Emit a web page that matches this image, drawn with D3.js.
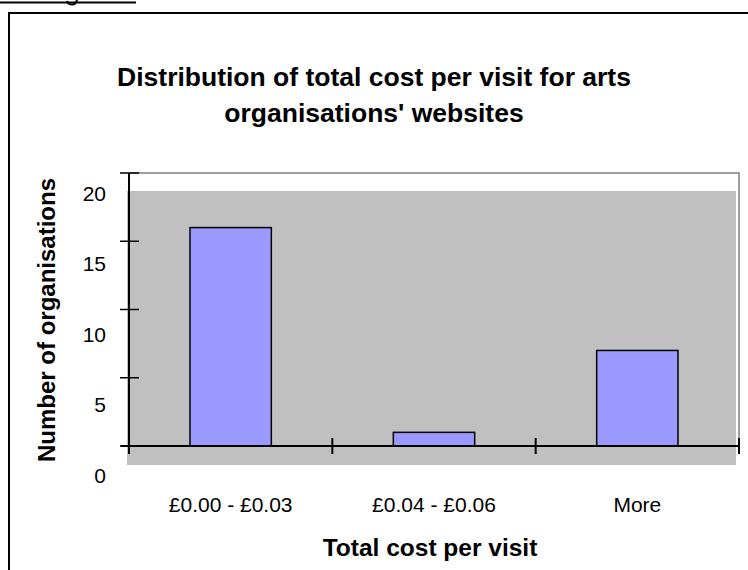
<!DOCTYPE html>
<html><head><meta charset="utf-8">
<script src="https://cdn.jsdelivr.net/npm/d3@7"></script>
<style>body{margin:0;background:#fff}svg{display:block}text{font-family:Arial,"Liberation Sans",sans-serif}</style>
</head><body>
<svg id="c" width="748" height="570"></svg>
<script>
const categories = ["£0.00 - £0.03", "£0.04 - £0.06", "More"];
const counts = [16, 1, 7];
const yTicks = [0, 5, 10, 15, 20];
const titleLines = ["Distribution of total cost per visit for arts", "organisations' websites"];
const xTitle = "Total cost per visit";
const yTitle = "Number of organisations";

const svg = d3.select("#c");
const L = 129, R = 739, T = 173, B = 446;

// fragment of the page above the chart (underline and a descender)
svg.append("line").attr("x1",0).attr("x2",136).attr("y1",2.5).attr("y2",2.5).attr("stroke","#000").attr("stroke-width",2);
svg.append("path").attr("d","M67,1 Q68,4.5 72,4.5 Q76,4.5 77,0").attr("fill","none").attr("stroke","#000").attr("stroke-width",2);

// outer frame
svg.append("path").attr("d","M9,575 V13 H760").attr("fill","none").attr("stroke","#000").attr("stroke-width",2);

const x = d3.scaleBand().domain(categories).range([L, R]).paddingInner(0.6).paddingOuter(0.3);
const y = d3.scaleLinear().domain([0, 20]).range([B, T]);
const yLab = d3.scaleLinear().domain([0, 20]).range([475, 193]);

// plot area: white with grey border, grey fill offset
svg.append("path").attr("d",`M${L},${T} H${R} V${B}`).attr("fill","none").attr("stroke","#808080").attr("stroke-width",1.5);
svg.append("rect").attr("x",L-2).attr("y",T+18).attr("width",R-L-1).attr("height",B-T+1).attr("fill","#c0c0c0");

// bars
svg.selectAll("rect.bar").data(counts).join("rect").attr("class","bar")
  .attr("x",(d,i)=>x(categories[i])).attr("width",x.bandwidth())
  .attr("y",d=>y(d)).attr("height",d=>B-y(d))
  .attr("fill","#9999ff").attr("stroke","#000").attr("stroke-width",1.5);

// y axis
svg.append("line").attr("x1",L).attr("x2",L).attr("y1",T).attr("y2",B+8).attr("stroke","#000").attr("stroke-width",2);
svg.selectAll("line.yt").data(yTicks).join("line").attr("class","yt")
  .attr("x1",L-9).attr("x2",L+10).attr("y1",d=>y(d)).attr("y2",d=>y(d)).attr("stroke","#000").attr("stroke-width",1.5);
svg.selectAll("text.yl").data(yTicks).join("text").attr("class","yl")
  .attr("x",106).attr("y",d=>yLab(d)).attr("dy","0.36em").attr("text-anchor","end").attr("font-size",21).text(d=>d);

// x axis
svg.append("line").attr("x1",L-8).attr("x2",R+1).attr("y1",B).attr("y2",B).attr("stroke","#000").attr("stroke-width",2);
const bounds = d3.range(categories.length+1).map(i => L + i*(R-L)/categories.length);
svg.selectAll("line.xt").data(bounds.slice(1)).join("line").attr("class","xt")
  .attr("x1",d=>d).attr("x2",d=>d).attr("y1",B-8).attr("y2",B+8).attr("stroke","#000").attr("stroke-width",2);
svg.selectAll("text.xl").data(categories).join("text").attr("class","xl")
  .attr("x",d=>x(d)+x.bandwidth()/2).attr("y",512).attr("text-anchor","middle").attr("font-size",21).text(d=>d);

// titles
svg.selectAll("text.t").data(titleLines).join("text").attr("class","t")
  .attr("x",374).attr("y",(d,i)=>86+i*36).attr("text-anchor","middle").attr("font-size",26.5).attr("font-weight","bold").text(d=>d);
svg.append("text").attr("x",430).attr("y",556).attr("text-anchor","middle").attr("font-size",24.5).attr("font-weight","bold").text(xTitle);
svg.append("text").attr("transform","translate(55,320) rotate(-90)").attr("text-anchor","middle").attr("font-size",24).attr("font-weight","bold").text(yTitle);
</script>
</body></html>
